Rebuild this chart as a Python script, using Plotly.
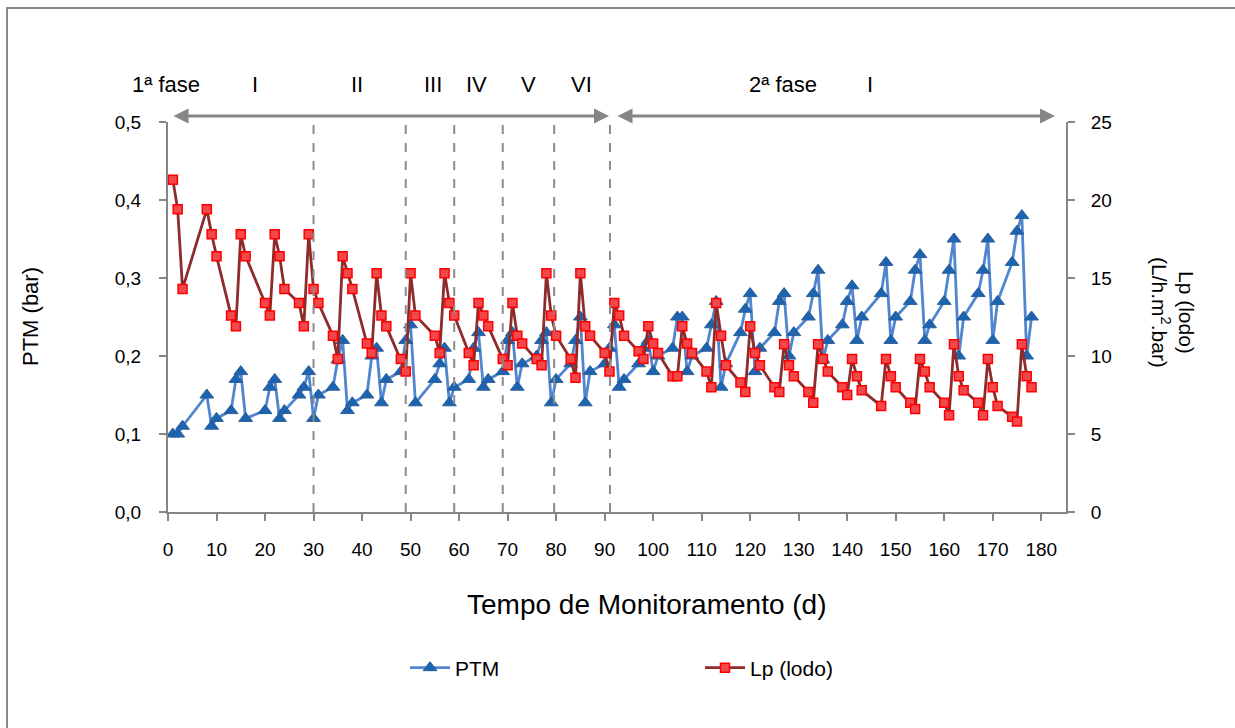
import plotly.graph_objects as go

days = [1, 2, 3, 8, 9, 10, 13, 14, 15, 16, 20, 21, 22, 23, 24, 27, 28, 29, 30, 31,
        34, 35, 36, 37, 38, 41, 42, 43, 44, 45, 48, 49, 50, 51, 55, 56, 57, 58, 59,
        62, 63, 64, 65, 66, 69, 70, 71, 72, 73, 76, 77, 78, 79, 80, 83, 84, 85, 86, 87,
        90, 91, 92, 93, 94, 97, 98, 99, 100, 101, 104, 105, 106, 107, 108,
        111, 112, 113, 114, 115, 118, 119, 120, 121, 122, 125, 126, 127, 128, 129,
        132, 133, 134, 135, 136, 139, 140, 141, 142, 143, 147, 148, 149, 150,
        153, 154, 155, 156, 157, 160, 161, 162, 163, 164, 167, 168, 169, 170, 171,
        174, 175, 176, 177, 178]

ptm = [0.10, 0.10, 0.11, 0.15, 0.11, 0.12, 0.13, 0.17, 0.18, 0.12, 0.13, 0.16, 0.17, 0.12, 0.13,
       0.15, 0.16, 0.18, 0.12, 0.15,
       0.16, 0.195, 0.22, 0.13, 0.14, 0.15, 0.20, 0.21, 0.14, 0.17, 0.18, 0.22, 0.24, 0.14,
       0.17, 0.19, 0.21, 0.14, 0.16,
       0.17, 0.21, 0.23, 0.16, 0.17, 0.18, 0.22, 0.23, 0.16, 0.19, 0.20, 0.22, 0.23, 0.14, 0.17,
       0.19, 0.22, 0.25, 0.14, 0.18,
       0.19, 0.21, 0.24, 0.16, 0.17, 0.19, 0.21, 0.22, 0.18, 0.20, 0.21, 0.25, 0.25, 0.18, 0.20,
       0.21, 0.24, 0.27, 0.16, 0.19, 0.23, 0.26, 0.28, 0.18, 0.21, 0.23, 0.27, 0.28, 0.20, 0.23,
       0.25, 0.28, 0.31, 0.195, 0.22, 0.24, 0.27, 0.29, 0.22, 0.25, 0.28, 0.32, 0.22, 0.25,
       0.27, 0.31, 0.33, 0.22, 0.24, 0.27, 0.31, 0.35, 0.20, 0.25, 0.28, 0.31, 0.35, 0.22, 0.27,
       0.32, 0.36, 0.38, 0.20, 0.25]

lp = [21.3, 19.4, 14.3, 19.4, 17.8, 16.4, 12.6, 11.9, 17.8, 16.4, 13.4, 12.6, 17.8, 16.4, 14.3,
      13.4, 11.9, 17.8, 14.3, 13.4,
      11.3, 9.8, 16.4, 15.3, 14.3, 10.8, 10.2, 15.3, 12.6, 11.9, 9.8, 9.0, 15.3, 12.6,
      11.3, 10.2, 15.3, 13.4, 12.6,
      10.2, 9.4, 13.4, 12.6, 11.9, 9.8, 9.4, 13.4, 11.3, 10.8, 9.8, 9.4, 15.3, 12.6, 11.3,
      9.8, 8.6, 15.3, 11.9, 11.3,
      10.2, 9.0, 13.4, 12.6, 11.3, 10.3, 9.8, 11.9, 10.8, 10.2, 8.7, 8.7, 11.9, 10.8, 10.2,
      9.0, 8.0, 13.4, 11.3, 9.4, 8.3, 7.7, 11.9, 10.2, 9.4, 8.0, 7.7, 10.75, 9.4, 8.7,
      7.7, 7.0, 10.75, 9.8, 9.0, 8.0, 7.5, 9.8, 8.7, 7.8, 6.8, 9.8, 8.7, 8.0,
      7.0, 6.6, 9.8, 9.0, 8.0, 7.0, 6.2, 10.75, 8.7, 7.8, 7.0, 6.2, 9.8, 8.0, 6.8,
      6.1, 5.8, 10.75, 8.7, 8.0]

phase_lines = [30, 49, 59, 69, 79.6, 91.1]
phase_labels = ["1ª fase", "I", "II", "III", "IV", "V", "VI", "2ª fase", "I"]
phase_label_px = [166, 255, 357, 433, 476, 528, 581, 783, 870]
phase_arrows_px = [(172, 609), (616, 1055)]

FONT = "Liberation Sans, Arial, sans-serif"
GRAY = "#868686"
L, R, T, B = 168, 169, 122, 216
PW, PH = 1235 - L - R, 728 - T - B


def px(xp):
    return (xp - L) / PW


def py(yp):
    return (728 - B - yp) / PH


fig = go.Figure()
fig.add_trace(go.Scatter(
    x=days, y=ptm, name="PTM", mode="lines+markers",
    line=dict(color="#4F86CF", width=2.8),
    marker=dict(symbol="triangle-up", size=12, color="#1C63B0",
                line=dict(color="#2A5E9A", width=1)),
    yaxis="y"))
fig.add_trace(go.Scatter(
    x=days, y=lp, name="Lp (lodo)", mode="lines+markers",
    line=dict(color="#8E2B2B", width=2.8),
    marker=dict(symbol="square", size=9, color="#F2474B",
                line=dict(color="#FF0000", width=1.5)),
    yaxis="y2"))

shapes = []
for xv in phase_lines:
    shapes.append(dict(type="line", xref="x", yref="paper", x0=xv, x1=xv, y0=0, y1=py(118),
                       line=dict(color="#8C8C8C", width=2, dash="dash")))
shapes.append(dict(type="rect", xref="paper", yref="paper",
                   x0=px(7), x1=px(1300), y0=py(800), y1=py(8),
                   line=dict(color="#8A8A8A", width=2), layer="below"))

annotations = []
for lab, xp in zip(phase_labels, phase_label_px):
    annotations.append(dict(x=px(xp), y=py(85), xref="paper", yref="paper", text=lab,
                            xanchor="center", yanchor="middle",
                            showarrow=False, font=dict(family=FONT, size=22, color="#000")))
for a0, a1 in phase_arrows_px:
    annotations.append(dict(x=px(a1), y=py(116), xref="paper", yref="paper",
                            ax=a0 - a1, ay=0, axref="pixel", ayref="pixel",
                            showarrow=True, arrowhead=2, arrowside="end+start",
                            arrowsize=1, arrowwidth=3, arrowcolor=GRAY, text=""))
annotations.append(dict(x=px(30), y=py(317), xref="paper", yref="paper",
                        xanchor="center", yanchor="middle",
                        text="PTM (bar)", textangle=-90, showarrow=False,
                        font=dict(family=FONT, size=22, color="#000")))
annotations.append(dict(x=px(1173), y=py(312), xref="paper", yref="paper",
                        xanchor="center", yanchor="middle",
                        text="Lp (lodo)<br>(L/h.m<sup>2</sup>.bar)", textangle=90, showarrow=False,
                        font=dict(family=FONT, size=21, color="#000")))
annotations.append(dict(x=px(647), y=py(604), xref="paper", yref="paper",
                        xanchor="center", yanchor="middle",
                        text="Tempo de Monitoramento (d)", showarrow=False,
                        font=dict(family=FONT, size=28, color="#000")))

fig.update_layout(
    width=1235, height=728,
    margin=dict(l=L, r=R, t=T, b=B),
    paper_bgcolor="white", plot_bgcolor="white",
    separators=",.",
    font=dict(family=FONT, color="#000"),
    showlegend=True,
    legend=dict(orientation="h", x=px(405), y=py(668), xanchor="left", yanchor="middle",
                font=dict(family=FONT, size=21), entrywidth=240, entrywidthmode="pixels",
                itemwidth=40),
    xaxis=dict(range=[0, 185.1], tickmode="array", tickvals=list(range(0, 181, 10)),
               showgrid=False, zeroline=False, showline=True, linecolor=GRAY, linewidth=2,
               ticks="outside", ticklen=7, tickcolor=GRAY, tickwidth=2,
               ticklabelstandoff=12,
               tickfont=dict(family=FONT, size=19)),
    yaxis=dict(range=[0, 0.5], tickmode="array", tickvals=[0, 0.1, 0.2, 0.3, 0.4, 0.5],
               tickformat=".1f", showgrid=False, zeroline=False, showline=True,
               linecolor=GRAY, linewidth=2, ticks="outside", ticklen=7, tickcolor=GRAY,
               tickwidth=2, ticklabelstandoff=14, tickfont=dict(family=FONT, size=19)),
    yaxis2=dict(range=[0, 25], overlaying="y", side="right", tickmode="array",
                tickvals=[0, 5, 10, 15, 20, 25], showgrid=False, zeroline=False,
                showline=True, linecolor=GRAY, linewidth=2, ticks="outside", ticklen=7,
                tickcolor=GRAY, tickwidth=2, ticklabelstandoff=12,
                tickfont=dict(family=FONT, size=19)),
    shapes=shapes, annotations=annotations,
)

fig.write_html("out.html")
